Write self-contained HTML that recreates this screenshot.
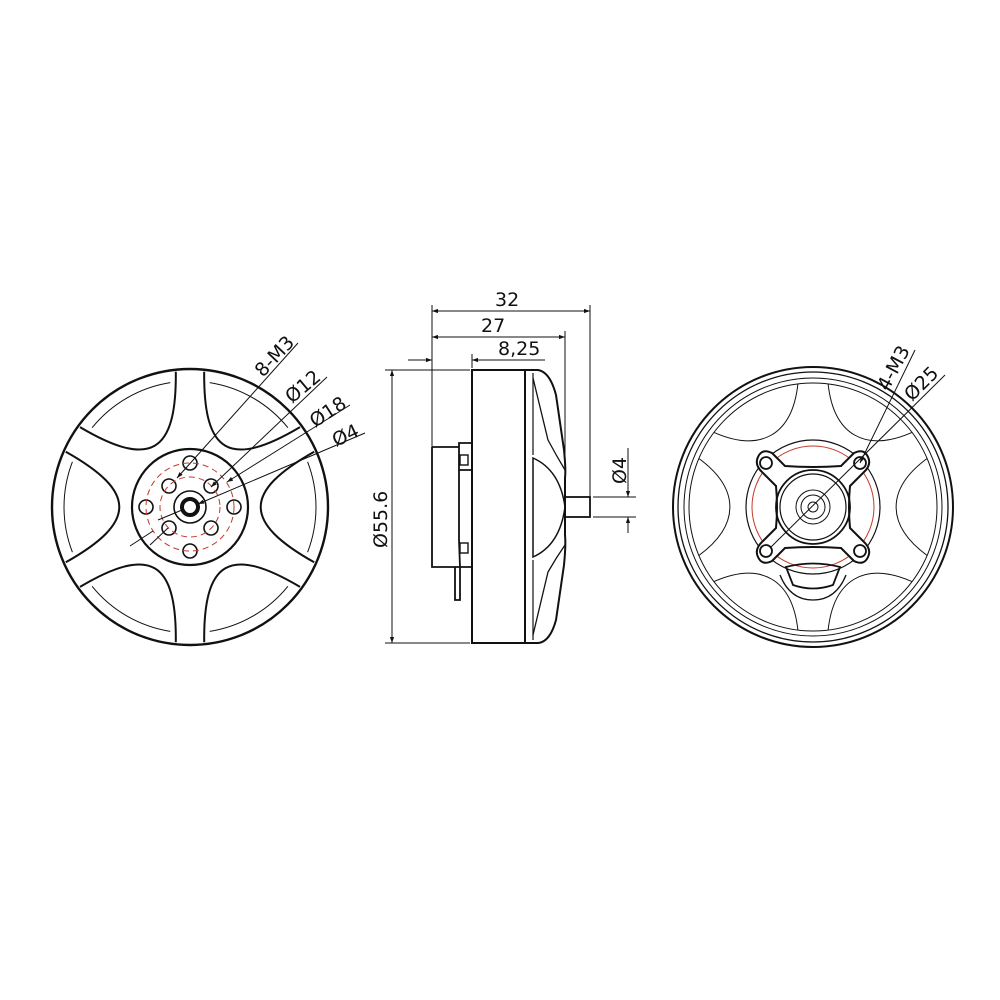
<!DOCTYPE html>
<html><head><meta charset="utf-8"><style>
html,body{margin:0;padding:0;background:#fff;}
svg{display:block}
text{font-family:"DejaVu Sans","Liberation Sans",sans-serif;font-size:19px;fill:#111}
</style></head><body>
<svg width="1000" height="1000" viewBox="0 0 1000 1000" xmlns="http://www.w3.org/2000/svg">
<defs>
<marker id="ar" viewBox="0 0 10 10" refX="10" refY="5" markerWidth="9" markerHeight="6" orient="auto-start-reverse" markerUnits="userSpaceOnUse"><path d="M0,1.5 L10,5 L0,8.5z" fill="#111"/></marker>
</defs>
<!-- LEFT VIEW -->
<g stroke="#111" fill="none">
<circle cx="190" cy="507" r="138" stroke-width="2.4"/>
<g id="wins" stroke-width="2">
</g>
<circle cx="190" cy="507" r="58" stroke-width="2.2"/>
<circle cx="190" cy="507" r="16" stroke-width="1.6"/>
<circle cx="190" cy="507" r="8" stroke-width="4"/>
<g stroke-width="1.6">
<circle cx="190" cy="463" r="7"/><circle cx="234" cy="507" r="7"/><circle cx="190" cy="551" r="7"/><circle cx="146" cy="507" r="7"/>
<circle cx="211" cy="486" r="7"/><circle cx="211" cy="528" r="7"/><circle cx="169" cy="528" r="7"/><circle cx="169" cy="486" r="7"/>
</g>
<circle cx="190" cy="507" r="44" stroke="#c0392b" stroke-width="1" stroke-dasharray="6,4"/>
<circle cx="190" cy="507" r="30" stroke="#c0392b" stroke-width="1" stroke-dasharray="6,4"/>
<g stroke-width="1">
<line x1="298" y1="343" x2="177" y2="478" marker-end="url(#ar)"/>
<line x1="327" y1="377" x2="211" y2="487" marker-end="url(#ar)"/>
<line x1="168" y1="528" x2="150" y2="545" />
<line x1="350" y1="405" x2="227" y2="482" marker-end="url(#ar)"/>
<line x1="153" y1="531" x2="130" y2="546" />
<line x1="365" y1="433" x2="198" y2="504" marker-end="url(#ar)"/>
<line x1="182" y1="510" x2="158" y2="520" />
</g>
</g>
<text transform="translate(263,378) rotate(-47)">8-M3</text>
<text transform="translate(292,404) rotate(-40)">Ø12</text>
<text transform="translate(315,428) rotate(-33)">Ø18</text>
<text transform="translate(336,447) rotate(-25)">Ø4</text>

<!-- MIDDLE VIEW -->
<g stroke="#111" fill="none" stroke-width="2">
<rect x="472" y="370" width="53" height="273"/>
<path d="M525,370 L538,370 Q550,372 556,395 L564,450 Q566,470 565,478 L565,535 Q566,545 564,565 L556,620 Q550,642 538,643 L525,643"/>
<path d="M533,378 L548,440 Q556,455 565,470" stroke-width="1.3"/>
<path d="M533,635 L548,572 Q556,558 565,545" stroke-width="1.3"/>
<path d="M533,458 Q560,470 565,507 Q560,545 533,557 Z" stroke-width="1.5"/>
<path d="M533,373 L533,455 M533,560 L533,640" stroke-width="1.2"/>
<path d="M432,447 L459,447 L459,443 L472,443 M459,447 L459,470 L472,470 M432,447 L432,567 L460,567 L460,600 L455,600 L455,567 M455,567 L472,567" stroke-width="1.8"/>
<path d="M459,470 L459,540 L460,567" stroke-width="1.8"/>
<rect x="460" y="455" width="8" height="10" stroke-width="1.4"/>
<rect x="460" y="543" width="8" height="10" stroke-width="1.4"/>
<rect x="565" y="497" width="25" height="20" stroke-width="1.8"/>
</g>
<g stroke="#111" stroke-width="1" fill="none">
<line x1="432" y1="305" x2="432" y2="447"/>
<line x1="590" y1="305" x2="590" y2="497"/>
<line x1="565" y1="331" x2="565" y2="478"/>
<line x1="472" y1="354" x2="472" y2="368"/>
<line x1="432" y1="311" x2="590" y2="311" marker-start="url(#ar)" marker-end="url(#ar)"/>
<line x1="432" y1="337" x2="565" y2="337" marker-start="url(#ar)" marker-end="url(#ar)"/>
<line x1="408" y1="360" x2="432" y2="360" marker-end="url(#ar)"/>
<line x1="545" y1="360" x2="472" y2="360" marker-end="url(#ar)"/>
<line x1="385" y1="370" x2="470" y2="370"/>
<line x1="385" y1="643" x2="470" y2="643"/>
<line x1="392" y1="370" x2="392" y2="643" marker-start="url(#ar)" marker-end="url(#ar)"/>
<line x1="593" y1="497" x2="636" y2="497"/>
<line x1="593" y1="517" x2="636" y2="517"/>
<line x1="628" y1="448" x2="628" y2="497" marker-end="url(#ar)"/>
<line x1="628" y1="533" x2="628" y2="517" marker-end="url(#ar)"/>
</g>
<text x="495" y="306">32</text>
<text x="481" y="332">27</text>
<text x="498" y="355">8,25</text>
<text transform="translate(387,548) rotate(-90)">Ø55.6</text>
<text transform="translate(626,484) rotate(-90)">Ø4</text>

<!-- RIGHT VIEW -->
<g stroke="#111" fill="none">
<circle cx="813" cy="507" r="140" stroke-width="2"/>
<circle cx="813" cy="507" r="135" stroke-width="1.3"/>
<circle cx="813" cy="507" r="129" stroke-width="1"/>
<circle cx="813" cy="507" r="124" stroke-width="1"/>
<g id="rsp" stroke-width="1"></g>
<circle cx="813" cy="507" r="67" stroke-width="1.2"/>
<circle cx="813" cy="507" r="61" stroke="#c0392b" stroke-width="1"/>
<path d="M758,457 Q762,448 772,453 L785,466 Q813,468 841,466 L854,453 Q864,448 868,457 Q872,465 863,473 L850,486 Q848,507 850,528 L863,541 Q872,549 868,557 Q864,566 854,561 L841,548 Q813,546 785,548 L772,561 Q762,566 758,557 Q754,549 763,541 L776,528 Q778,507 776,486 L763,473 Q754,465 758,457Z" stroke-width="2" fill="#fff"/>
<circle cx="813" cy="507" r="37" stroke-width="1.8"/>
<circle cx="813" cy="507" r="33" stroke-width="1.2"/>
<circle cx="813" cy="507" r="17" stroke-width="1"/>
<circle cx="813" cy="507" r="12" stroke-width="1"/>
<circle cx="813" cy="507" r="5" stroke-width="1"/>
<g stroke-width="1.8"><circle cx="766" cy="463" r="6"/><circle cx="860" cy="463" r="6"/><circle cx="766" cy="551" r="6"/><circle cx="860" cy="551" r="6"/></g>
<path d="M786,567 Q813,560 840,567 L833,585 Q813,592 793,585Z" stroke-width="1.8"/>
<path d="M780,575 Q790,600 813,600 Q836,600 846,575" stroke-width="1.3"/>
<g stroke-width="1">
<line x1="915" y1="350" x2="860" y2="463" marker-end="url(#ar)"/>
<line x1="945" y1="375" x2="770" y2="548"/>
</g>
</g>
<text transform="translate(888,392) rotate(-62)">4-M3</text>
<text transform="translate(912,402) rotate(-45)">Ø25</text>

<script>
(function(){
 var g=document.getElementById('wins'),ns='http://www.w3.org/2000/svg';
 var cx=190,cy=507;
 function p(a,r){a=a*Math.PI/180;return (cx+r*Math.cos(a)).toFixed(1)+','+(cy-r*Math.sin(a)).toFixed(1);}
 [0,60,120,180,240,300].forEach(function(t){
  var d='M'+p(t-24,136)+' C'+p(t-16,55)+' '+p(t+16,55)+' '+p(t+24,136);
  var e=document.createElementNS(ns,'path');e.setAttribute('d',d);g.appendChild(e);
  var d2='M'+p(t-21,126)+' A126,126 0 0 0 '+p(t+21,126);
  var f=document.createElementNS(ns,'path');f.setAttribute('d',d2);f.setAttribute('stroke-width','1');g.appendChild(f);
 });
 var r=document.getElementById('rsp');cx=813;
 [0,60,120,180,240,300].forEach(function(t){
  var d='M'+p(t-23,124)+' C'+p(t-14,75)+' '+p(t+14,75)+' '+p(t+23,124);
  var e=document.createElementNS(ns,'path');e.setAttribute('d',d);r.appendChild(e);
 });
})();
</script>
</svg>
</body></html>
